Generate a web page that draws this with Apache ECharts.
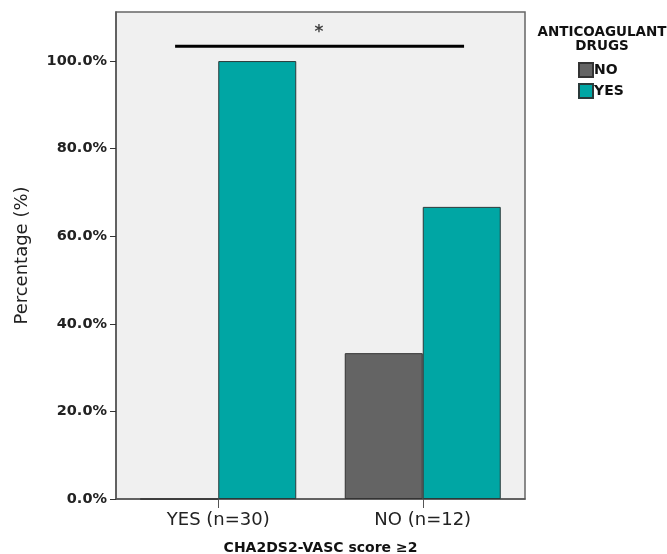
<!DOCTYPE html>
<html><head><meta charset="utf-8">
<script src="https://cdn.jsdelivr.net/npm/echarts@6/dist/echarts.min.js"></script>
<style>html,body{margin:0;padding:0;background:#fff}#c{width:667px;height:554px}</style>
</head><body><div id="c"></div>
<script>
const categories = ['YES (n=30)', 'NO (n=12)'];
const seriesNames = ['NO', 'YES'];
const valuesNO = [0, 33.3];
const valuesYES = [100, 66.7];
const yTicks = [0, 20, 40, 60, 80, 100];
const sigBar = [[-0.211, 103.4], [1.202, 103.4]];
const sigStar = [[0.493, 106.5]];
const sigLabel = '*';

const chart = echarts.init(document.getElementById('c'));
const font = 'DejaVu Sans, Verdana, sans-serif';
chart.setOption({
  animation: false,
  textStyle: { fontFamily: font },
  grid: { left: 116, top: 12, width: 409, height: 487, show: true, containLabel: false,
          outerBoundsMode: 'none',
          backgroundColor: '#F0F0F0', borderColor: '#666', borderWidth: 1.5 },
  legend: {
    data: seriesNames, orient: 'vertical', left: 573, top: 57, itemWidth: 14, itemHeight: 14,
    itemGap: 5, icon: 'rect',
    textStyle: { fontFamily: font, fontWeight: 'bold', fontSize: 14, color: '#111', padding: [0,0,0,-4] }
  },
  title: {
    text: 'ANTICOAGULANT\nDRUGS', left: 597, top: 20, textAlign: 'center',
    textStyle: { fontFamily: font, fontWeight: 'bold', fontSize: 13.5, color: '#111', lineHeight: 14 }
  },
  xAxis: [{
    type: 'category', data: categories, position: 'bottom',
    axisLine: { show: true, lineStyle: { color: '#555', width: 1.5 } },
    axisTick: { show: true, alignWithLabel: true, length: 9, lineStyle: { color: '#555' } },
    axisLabel: { fontSize: 18, color: '#222', margin: 12, fontFamily: font },
    name: 'CHA2DS2-VASC score ≥2', nameLocation: 'middle', nameGap: 42,
    nameTextStyle: { fontSize: 14, fontWeight: 'bold', color: '#111', fontFamily: font }
  }, {
    type: 'value', min: -0.5, max: 1.5, show: false
  }],
  yAxis: {
    type: 'value', min: 0, max: 111.2, interval: 20,
    axisLine: { show: true, onZero: false, lineStyle: { color: '#555', width: 1.5 } },
    axisTick: { show: true, length: 6, lineStyle: { color: '#333' } },
    splitLine: { show: false },
    axisLabel: { fontSize: 14.5, fontWeight: 'bold', color: '#222', margin: 9, fontFamily: font,
                 showMaxLabel: false,
                 formatter: v => (yTicks.indexOf(v) >= 0 ? v.toFixed(1) + '%' : '') },
    name: 'Percentage (%)', nameLocation: 'middle', nameGap: 85, nameRotate: 90,
    nameTextStyle: { fontSize: 18, color: '#222', fontFamily: font }
  },
  series: [
    { name: 'NO', type: 'bar', data: valuesNO, barWidth: 78, barGap: '0%',
      itemStyle: { color: '#646464', borderColor: '#333', borderWidth: 1 } },
    { name: 'YES', type: 'bar', data: valuesYES, barWidth: 78, barGap: '0%',
      itemStyle: { color: '#00A6A4', borderColor: '#2a3a3a', borderWidth: 1 } },
    { type: 'line', xAxisIndex: 1, data: sigBar, symbol: 'none', silent: true,
      lineStyle: { color: '#000', width: 3 } },
    { type: 'scatter', xAxisIndex: 1, data: sigStar, symbolSize: 0, silent: true,
      label: { show: true, position: 'inside', formatter: sigLabel, fontSize: 17, fontWeight: 'bold', color: '#111', fontFamily: font } }
  ]
});
</script></body></html>
